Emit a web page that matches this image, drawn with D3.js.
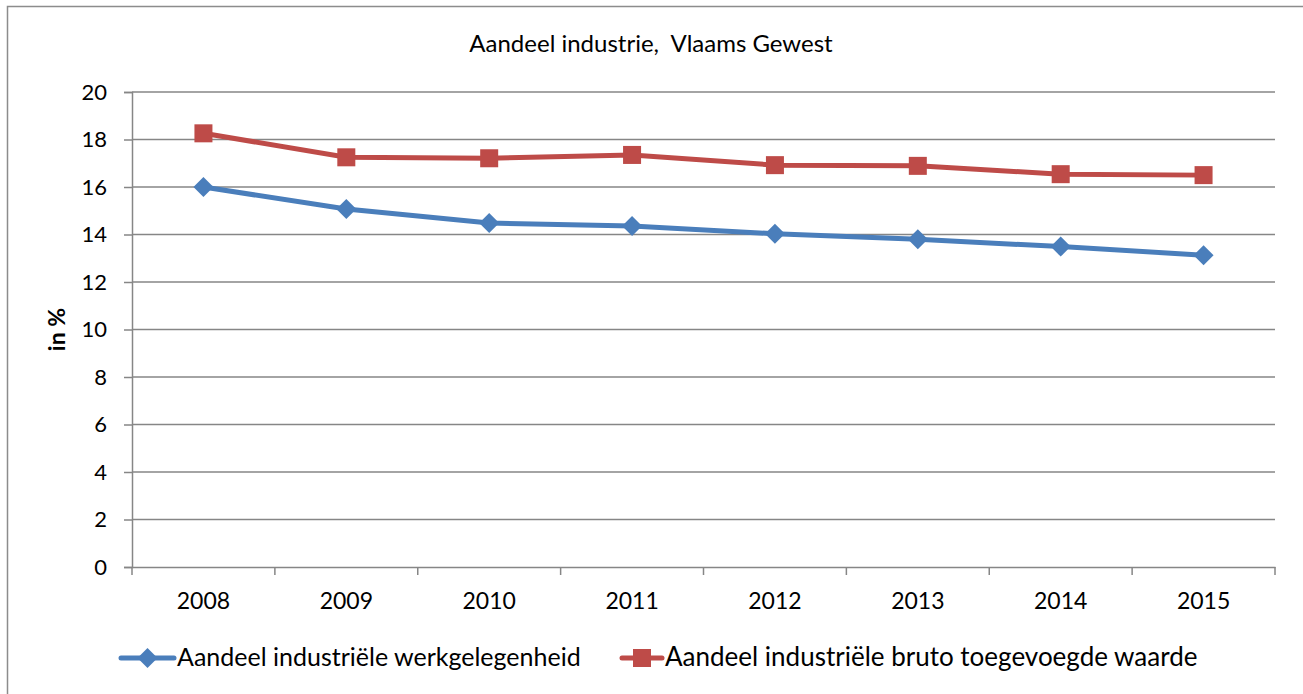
<!DOCTYPE html>
<html>
<head>
<meta charset="utf-8">
<script src="https://cdn.jsdelivr.net/npm/d3@7"></script>
<style>
  body { margin: 0; background: #fff; }
  svg text { font-family: Lato, "Open Sans", sans-serif; fill: #000; }
</style>
</head>
<body>
<script>
var years = ["2008", "2009", "2010", "2011", "2012", "2013", "2014", "2015"];
var werkgelegenheid = [16.0, 15.07, 14.48, 14.36, 14.03, 13.8, 13.49, 13.13];
var toegevoegdeWaarde = [18.26, 17.25, 17.21, 17.35, 16.92, 16.89, 16.54, 16.5];
var yTicks = [0, 2, 4, 6, 8, 10, 12, 14, 16, 18, 20];
var seriesNames = ["Aandeel industriële werkgelegenheid", "Aandeel industriële bruto toegevoegde waarde"];

var width = 1303, height = 694;
var margin = { left: 132, right: 28, top: 92, bottom: 127 };

var svg = d3.select("body").append("svg")
    .attr("width", width)
    .attr("height", height);

// chart border
svg.append("rect")
    .attr("x", 7.5).attr("y", 6.5)
    .attr("width", width).attr("height", height)
    .attr("fill", "none").attr("stroke", "#8c8c8c").attr("stroke-width", 1.5);

var x = d3.scaleBand()
    .domain(years)
    .range([margin.left, width - margin.right]);

var y = d3.scaleLinear()
    .domain([0, 20])
    .range([height - margin.bottom, margin.top]);

// gridlines
svg.append("g").selectAll("line")
    .data(yTicks.slice(1))
    .enter().append("line")
    .attr("x1", margin.left).attr("x2", width - margin.right)
    .attr("y1", function(d) { return y(d); })
    .attr("y2", function(d) { return y(d); })
    .attr("stroke", "#868686").attr("stroke-width", 1.5);

// y axis
var yAxis = svg.append("g")
    .attr("transform", "translate(" + margin.left + ",0)")
    .call(d3.axisLeft(y).tickValues(yTicks).tickSize(8).tickPadding(17));
yAxis.selectAll("text").style("font-size", "22px");

// x axis, ticks between categories
var xAxis = svg.append("g")
    .attr("transform", "translate(0," + y(0) + ")")
    .call(d3.axisBottom(x).tickSize(0).tickPadding(26));
xAxis.selectAll("text").style("font-size", "23px");
xAxis.selectAll(".boundary")
    .data(years.concat(["end"]))
    .enter().append("line")
    .attr("class", "boundary")
    .attr("x1", function(d, i) { return margin.left + i * x.step(); })
    .attr("x2", function(d, i) { return margin.left + i * x.step(); })
    .attr("y1", 0).attr("y2", 8);

svg.selectAll(".domain, .tick line, .boundary")
    .attr("stroke", "#868686").attr("stroke-width", 1.5);

// y axis title
svg.append("text")
    .attr("transform", "translate(65," + y(10) + ") rotate(-90)")
    .attr("text-anchor", "middle")
    .style("font-size", "23px").style("font-weight", "bold")
    .text("in %");

// title
svg.append("text")
    .attr("x", 651).attr("y", 52)
    .attr("text-anchor", "middle")
    .style("font-size", "24px")
    .style("white-space", "pre")
    .attr("xml:space", "preserve")
    .text("Aandeel industrie,  Vlaams Gewest");

var line = d3.line()
    .x(function(d, i) { return x(years[i]) + x.bandwidth() / 2; })
    .y(function(d) { return y(d); });

var blue = "#4a7ebb", red = "#be4b48";

function diamond(g, cx, cy) {
    g.append("path")
        .attr("d", d3.symbol().type(d3.symbolSquare).size(200)())
        .attr("transform", "translate(" + cx + "," + cy + ") rotate(45)")
        .attr("fill", blue);
}
function square(g, cx, cy) {
    g.append("rect")
        .attr("x", cx - 9).attr("y", cy - 9)
        .attr("width", 18).attr("height", 18)
        .attr("fill", red);
}

svg.append("path").datum(werkgelegenheid)
    .attr("d", line).attr("fill", "none")
    .attr("stroke", blue).attr("stroke-width", 5);
svg.append("path").datum(toegevoegdeWaarde)
    .attr("d", line).attr("fill", "none")
    .attr("stroke", red).attr("stroke-width", 5);

var markers = svg.append("g");
werkgelegenheid.forEach(function(v, i) {
    diamond(markers, x(years[i]) + x.bandwidth() / 2, y(v));
});
toegevoegdeWaarde.forEach(function(v, i) {
    square(markers, x(years[i]) + x.bandwidth() / 2, y(v));
});

// legend
var legendY = 658;
var legend = svg.append("g");
[{ x: 121, len: 53, color: blue, mark: diamond, name: seriesNames[0], size: 25 },
 { x: 622, len: 40, color: red, mark: square, name: seriesNames[1], size: 26 }].forEach(function(d) {
    legend.append("line")
        .attr("x1", d.x).attr("x2", d.x + d.len)
        .attr("y1", legendY).attr("y2", legendY)
        .attr("stroke", d.color).attr("stroke-width", 5)
        .attr("stroke-linecap", "round");
    d.mark(legend, d.x + d.len / 2, legendY);
    legend.append("text")
        .attr("x", d.x + d.len + 3).attr("y", legendY + 8)
        .style("font-size", d.size + "px")
        .text(d.name);
});
</script>
</body>
</html>
